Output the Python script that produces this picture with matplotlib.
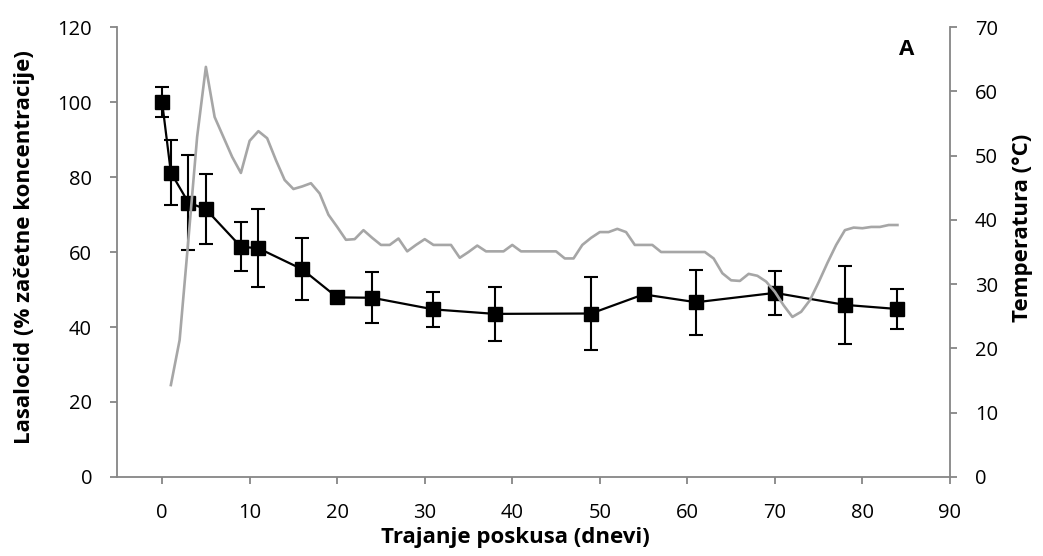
import matplotlib.pyplot as plt

plt.rcParams["font.family"] = ["Open Sans", "DejaVu Sans"]

# lasalocid concentration (% of start), mean and error
days = [0, 1, 3, 5, 9, 11, 16, 20, 24, 31, 38, 49, 55, 61, 70, 78, 84]
lasalocid = [100.0, 81.2, 73.2, 71.4, 61.4, 61.0, 55.4, 47.9, 47.8, 44.7,
             43.5, 43.6, 48.7, 46.6, 49.1, 45.9, 44.8]
lasalocid_err = [4.1, 8.7, 12.6, 9.3, 6.5, 10.4, 8.3, 0.0, 6.8, 4.6,
                 7.2, 9.7, 0.0, 8.6, 5.9, 10.3, 5.4]

# temperature, one reading per day
temp_days = list(range(1, 85))
temperature = [14.3, 21.3, 36.9, 52.9, 63.8, 56.0, 52.9, 49.8, 47.3, 52.3,
               53.8, 52.7, 49.3, 46.2, 44.8, 45.2, 45.7, 44.1, 40.8, 38.9,
               36.9, 37.0, 38.4, 37.2, 36.1, 36.1, 37.1, 35.1, 36.1, 37.0,
               36.1, 36.1, 36.1, 34.1, 35.0, 36.0, 35.1, 35.1, 35.1, 36.1,
               35.1, 35.1, 35.1, 35.1, 35.1, 34.0, 34.0, 36.1, 37.2, 38.1,
               38.1, 38.6, 38.1, 36.1, 36.1, 36.1, 35.0, 35.0, 35.0, 35.0,
               35.0, 35.0, 34.0, 31.7, 30.6, 30.5, 31.6, 31.3, 30.4, 28.8,
               26.7, 24.9, 25.7, 27.5, 30.3, 33.3, 36.1, 38.4, 38.8, 38.7,
               38.9, 38.9, 39.2, 39.2]

x_ticks = list(range(0, 100, 10))
left_ticks = list(range(0, 140, 20))
right_ticks = list(range(0, 80, 10))

spine_grey = "#868686"

fig = plt.figure(figsize=(10.43, 5.56), dpi=100)
ax = fig.add_axes([0.1122, 0.1421, 0.7986, 0.8093])

ax.errorbar(
    days, lasalocid, yerr=lasalocid_err,
    fmt="s-", color="black", markersize=10, linewidth=1.6,
    elinewidth=1.5, capsize=5, capthick=1.5
)

ax2 = ax.twinx()
ax2.plot(temp_days, temperature, color="#a6a6a6", linewidth=1.9)

ax.set_xlim(-5.15, 90)
ax.set_ylim(0, 120)
ax2.set_ylim(0, 70)
ax.set_xticks(x_ticks)
ax.set_yticks(left_ticks)
ax2.set_yticks(right_ticks)

for a in (ax, ax2):
    a.spines["top"].set_visible(False)
    for s in ("left", "right", "bottom"):
        a.spines[s].set_color(spine_grey)
        a.spines[s].set_linewidth(1.3)
    a.tick_params(colors=spine_grey, labelcolor="black", labelsize=14.5,
                  length=5, width=1.3)
ax.spines["right"].set_visible(False)
ax2.spines["left"].set_visible(False)
ax2.spines["bottom"].set_visible(False)
ax.tick_params(axis="y", pad=13)
ax.tick_params(axis="x", pad=14)
ax2.tick_params(axis="y", pad=13)

ax.set_xlabel("Trajanje poskusa (dnevi)", fontsize=16, fontweight="bold")
ax.set_ylabel("Lasalocid (% začetne koncentracije)", fontsize=16,
              fontweight="bold")
ax2.set_ylabel("Temperatura (°C)", fontsize=16, fontweight="bold",
               rotation=90)
ax.xaxis.set_label_coords(0.478, -0.112)
ax.yaxis.set_label_coords(-0.098, 0.511)
ax2.yaxis.set_label_coords(1.074, 0.553)

ax.text(0.948, 0.95, "A", transform=ax.transAxes, fontsize=16,
        fontweight="bold", ha="center", va="center")

fig.savefig("out.png", dpi=100)
